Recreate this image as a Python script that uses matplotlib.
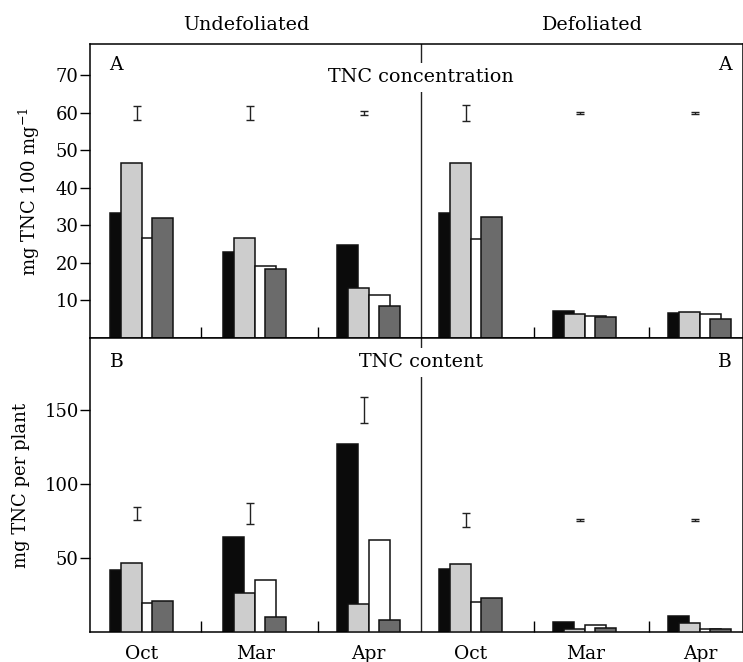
import matplotlib
matplotlib.use("Agg")
import matplotlib.pyplot as plt
import numpy as np

plt.rcParams['font.family'] = ['DejaVu Serif']
plt.rcParams['mathtext.fontset'] = 'dejavuserif'

months = ["Oct", "Mar", "Apr", "Oct", "Mar", "Apr"]
treatments = ["Undefoliated", "Defoliated"]

# TNC concentration (mg TNC 100 mg-1): 4 series x 6 groups
conc_s1 = [33.3, 22.9, 24.8, 33.4, 7.2, 6.6]
conc_s2 = [46.6, 26.6, 13.4, 46.7, 6.3, 6.8]
conc_s3 = [26.6, 19.2, 11.5, 26.4, 5.8, 6.3]
conc_s4 = [31.9, 18.4, 8.5, 32.2, 5.5, 5.0]
conc_err_mid = [60, 60, 60, 60, 60, 60]
conc_err = [1.9, 1.9, 0.5, 2.1, 0.3, 0.3]

# TNC content (mg TNC per plant)
cont_s1 = [42.3, 64.2, 127.5, 42.8, 6.6, 10.7]
cont_s2 = [46.9, 26.5, 19.1, 45.7, 1.7, 6.0]
cont_s3 = [19.5, 35.4, 62.0, 20.2, 4.5, 2.2]
cont_s4 = [21.3, 10.0, 8.2, 22.9, 2.6, 1.8]
cont_err_mid = [80, 80, 150, 76, 76, 76]
cont_err = [4.5, 7.0, 8.8, 4.6, 0.6, 0.6]

colors = ["#0b0b0b", "#cdcdcd", "#ffffff", "#6b6b6b"]

pos = np.array([0, 1, 2, 2.9, 3.91, 4.92])
divider = 2.458
sep_ticks = [0.52, 1.55, 3.46, 4.47]
bw = 0.185
offs = [-0.282, -0.185, 0.0, 0.088]
xl = (-0.458, 5.30)

fig = plt.figure(figsize=(7.43, 6.62), dpi=100)
ax1 = fig.add_axes([0.1211, 0.4894, 0.8789, 0.4441])
ax2 = fig.add_axes([0.1211, 0.0453, 0.8789, 0.4441])

def draw(ax, series, emid, eerr, ylim, yticks, letter, title, title_y,
         letter_y, ylabel, show_x):
    for k, (vals, c) in enumerate(zip(series, colors)):
        ax.bar(pos + offs[k], vals, width=bw, align='edge', color=c,
               edgecolor='#111111', linewidth=1.1, zorder=2 + k)
    ax.errorbar(pos - 0.044, emid, yerr=eerr, fmt='none', ecolor='#222222',
                elinewidth=1.0, capsize=3.2, capthick=1.0, zorder=10)
    ax.set_xlim(*xl)
    ax.set_ylim(*ylim)
    ax.set_yticks(yticks)
    ax.tick_params(axis='y', direction='out', length=7, width=1.0, pad=1,
                   labelsize=13)
    ax.set_xticks(pos)
    ax.set_xticks(sep_ticks, minor=True)
    ax.tick_params(axis='x', which='major', length=0, pad=9, labelsize=13.5)
    ax.tick_params(axis='x', which='minor', direction='in', length=8, width=1.0)
    if show_x:
        ax.set_xticklabels(months)
    else:
        ax.set_xticklabels([])
    for s in ax.spines.values():
        s.set_linewidth(1.1)
    ax.axvline(divider, color='#222222', linewidth=1.0, zorder=1)
    ax.text(0.03, letter_y, letter, transform=ax.transAxes, fontsize=13.5,
            ha='left', va='center')
    ax.text(0.982, letter_y, letter, transform=ax.transAxes, fontsize=13.5,
            ha='right', va='center')
    ax.text(divider, ylim[1] * title_y, title, fontsize=13.8, ha='center',
            va='center', zorder=20,
            bbox=dict(facecolor='white', edgecolor='none', pad=4))
    ax.set_ylabel(ylabel, fontsize=13, labelpad=10)

draw(ax1, [conc_s1, conc_s2, conc_s3, conc_s4], conc_err_mid, conc_err,
     (0, 78.3), [10, 20, 30, 40, 50, 60, 70], "A", "TNC concentration",
     0.887, 0.929, "mg TNC 100 mg$^{-1}$", False)
draw(ax2, [cont_s1, cont_s2, cont_s3, cont_s4], cont_err_mid, cont_err,
     (0, 199), [50, 100, 150], "B", "TNC content",
     0.918, 0.918, "mg TNC per plant", True)

ax1.text(0.24, 1.064, treatments[0], transform=ax1.transAxes, fontsize=13.8,
         ha='center', va='center')
ax1.text(0.770, 1.064, treatments[1], transform=ax1.transAxes, fontsize=13.8,
         ha='center', va='center')

fig.savefig("out.png", dpi=100)
